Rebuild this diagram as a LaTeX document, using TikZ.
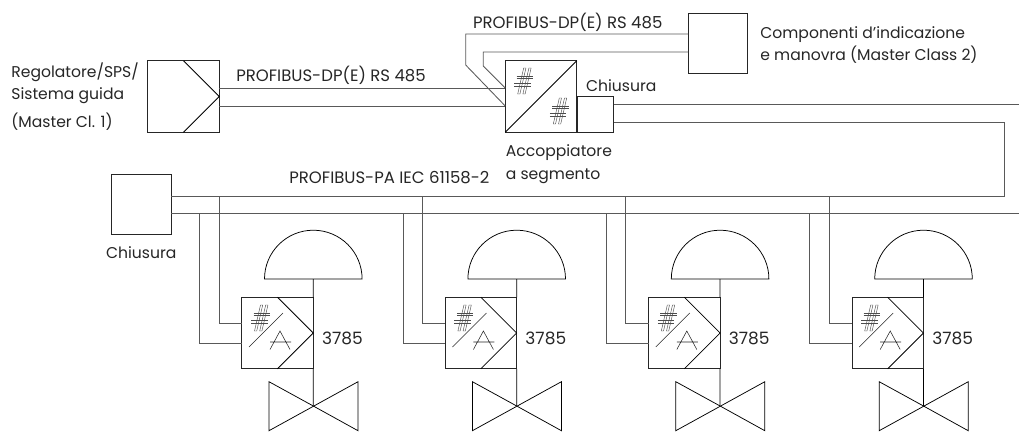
\documentclass[tikz,border=0pt]{standalone}
\usepackage{fontspec}
\setmainfont{Poppins}
\begin{document}
\begin{tikzpicture}[x=1pt,y=-1pt,
  line width=0.75pt,
  box/.style={draw=black!85,fill=none,rectangle,inner sep=0pt,outer sep=0pt,minimum width=#1,minimum height=#1},
  bus/.style={draw=black!65,line width=0.85pt},
  sym/.style={draw=black!85,line width=0.55pt},
  hsym/.style={draw=black!70,line width=0.45pt},
  lbl/.style={inner sep=0pt,font=\fontsize{15.6}{18}\selectfont,text=black!85,anchor=base west},
  blbl/.style={lbl,font=\fontsize{16.5}{18}\selectfont},
  nlbl/.style={lbl,font=\fontsize{17}{18}\selectfont},
  hash/.pic={
    \draw[hsym] (-7,-5.2) -- (9.5,-5.2) (-7,-2.6) -- (9.5,-2.6) (-9.5,2.6) -- (7,2.6) (-9.5,5.2) -- (7,5.2);
    \draw[hsym] (0,-13) -- (-6,13) -- (-3.8,13) -- (2.2,-13) -- cycle;
    \draw[hsym] (5.2,-13) -- (-0.8,13) -- (1.4,13) -- (7.4,-13) -- cycle;
  }]
\useasboundingbox (0,0) rectangle (1019,432);
% top-left controller
\node[box=71.5pt] (plc) at (183.5,96.5) {};
\coordinate (plctip) at (plc.east);
\draw (plc.north) -- (plctip) -- (plc.south);
% coupler
\node[box=71.5pt] (coupler) at (541,96.5) {};
\draw (coupler.south west) -- (coupler.north east);
\pic at (523.7,81) {hash};
\pic at (559.3,111) {hash};
\node[box=36pt,minimum height=36pt] (term) at (595.5,114) {};
% HMI
\node[box=59.5pt] (hmi) at (718,43.3) {};
% left terminator
\node[box=59.5pt] (termb) at (141.5,204.5) {};
% corner coordinates
\coordinate (busA) at (1004.5,196);
\coordinate (busB) at (1004.5,122);
\coordinate (r1) at (1019,104);
\coordinate (r2) at (1019,213.5);
\coordinate (d1) at (465.7,34);
\coordinate (d2) at (465.7,65);
\coordinate (e1) at (483.3,52);
\coordinate (e2) at (483.3,66);
% buses
\draw[bus] (plc.east|-0,88) -- (coupler.west|-0,88);
\draw[bus] (plc.east|-0,106) -- (coupler.west|-0,106);
\draw[bus] (term.east|-r1) -- (r1);
\draw[bus] (term.east|-busB) -- (busB) -- (busA) -- (termb.east|-busA);
\draw[bus] (termb.east|-r2) -- (r2);
\draw[bus] (hmi.west|-d1) -- (d1) -- (d2) -- (coupler.west|-0,106);
\draw[bus] (hmi.west|-e1) -- (e1) -- (e2) -- (coupler.west|-0,88);
% devices
\foreach \i/\dx in {1/0,2/203.4,3/406.8,4/610.2}{
  \begin{scope}[xshift=\dx pt]
    \node[box=71.5pt] (dev\i) at (277.5,333) {};
    \coordinate (tip\i) at (dev\i.east);
    \draw (dev\i.north) -- (tip\i) -- (dev\i.south);
    \draw[sym] (249,347) -- (283,313);
    \pic at (260.5,318) {hash};
    \draw[sym] (270,349.5) -- (280,331) -- (290,349.5) (270,342) -- (291,342);
    \coordinate (domeb\i) at (313.3,279);
    \coordinate (valve\i) at (313.3,406);
    \draw (264.5,279) arc[start angle=180,end angle=360,radius=48.8] -- cycle;
    \draw (domeb\i) -- (dev\i.north east);
    \draw (dev\i.south east) -- (valve\i);
    \draw (valve\i) -- (269,381.7) -- (269,430.7) -- (358,381.7) -- (358,430.7) -- cycle;
    \coordinate (ja\i) at (219,196);
    \coordinate (jb\i) at (199.7,213.5);
    \draw[bus] (ja\i) |- (dev\i.west|-0,323);
    \draw[bus] (jb\i) |- (dev\i.west|-0,343);
    \node[nlbl] (num\i) at (321.7,344) {3785};
  \end{scope}
}
% labels
\node[lbl] (t1) at (11,77) {Regolatore/SPS/};
\node[lbl] (t2) at (11,99) {Sistema guida};
\node[lbl] (t3) at (11,127) {(Master Cl. 1)};
\node[blbl] (t4) at (236,81) {PROFIBUS-DP(E) RS 485};
\node[blbl] (t5) at (472.7,28) {PROFIBUS-DP(E) RS 485};
\node[lbl] (t6) at (585.7,91) {Chiusura};
\node[lbl] (t7) at (505.5,156) {Accoppiatore};
\node[lbl] (t8) at (505.5,179) {a segmento};
\node[blbl] (t9) at (289,183.5) {PROFIBUS-PA IEC 61158-2};
\node[lbl] (t10) at (105.7,258) {Chiusura};
\node[lbl] (t11) at (760,38) {Componenti d’indicazione};
\node[lbl] (t12) at (760,60) {e manovra (Master Class 2)};
\end{tikzpicture}
\end{document}
